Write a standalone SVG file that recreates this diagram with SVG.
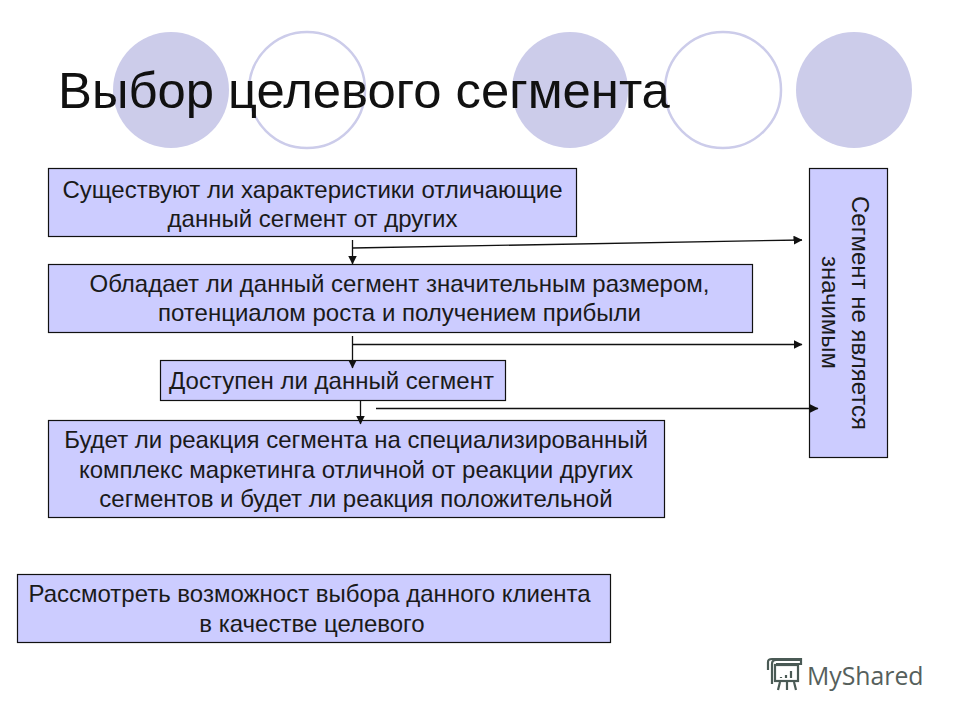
<svg xmlns="http://www.w3.org/2000/svg" width="960" height="720" viewBox="0 0 960 720">
<style>
text{font-family:"Liberation Sans",Arial,sans-serif;fill:#1a1a1a}
.t{font-size:24px;text-anchor:middle}
.b{fill:#ccccff;stroke:#111;stroke-width:1.2}
.c{fill:#ccccea}
.r{fill:#fff;stroke:#ccccea;stroke-width:2.5}
.l{fill:none;stroke:#111;stroke-width:1.3}
.i{fill:none;stroke:#4a5a55;stroke-width:2.200}
</style>
<defs><marker id="a" viewBox="0 0 9 9" refX="8.500" refY="4.500" markerWidth="9" markerHeight="9" markerUnits="userSpaceOnUse" orient="auto"><path d="M0 0L9 4.500L0 9Z" fill="#111"/></marker></defs>
<rect width="960" height="720" fill="#fff"/>
<g id="decor">
<circle class="c" cx="171" cy="90" r="58"/><circle class="r" cx="307" cy="90" r="58"/><circle class="c" cx="570" cy="90" r="58"/><circle class="r" cx="723" cy="90" r="58"/><circle class="c" cx="854" cy="90" r="58"/>
</g>
<text id="title" x="58" y="108" style="font-size:50.800px;fill:#111">Выбор целевого сегмента</text>
<g id="n1"><rect class="b" x="48.500" y="168.500" width="528" height="68"/><text class="t" x="312.500" y="198">Существуют ли характеристики отличающие</text><text class="t" x="312.500" y="227">данный сегмент от других</text></g>
<g id="n2"><rect class="b" x="48.500" y="264.500" width="704" height="68"/><text class="t" x="399.500" y="292">Обладает ли данный сегмент значительным размером,</text><text class="t" x="399.500" y="321">потенциалом роста и получением прибыли</text></g>
<g id="n3"><rect class="b" x="160.500" y="360.500" width="345" height="40"/><text class="t" x="331.500" y="389">Доступен ли данный сегмент</text></g>
<g id="n4"><rect class="b" x="48.500" y="420.500" width="616" height="97"/><text class="t" x="356" y="448">Будет ли реакция сегмента на специализированный</text><text class="t" x="356" y="478">комплекс маркетинга отличной от реакции других</text><text class="t" x="356" y="507">сегментов и будет ли реакция положительной</text></g>
<g id="n5"><rect class="b" x="17.500" y="574.500" width="593" height="68"/><text class="t" x="309.500" y="602">Рассмотреть возможност выбора данного клиента</text><text class="t" x="312" y="632">в качестве целевого</text></g>
<g id="n6"><rect class="b" x="809.500" y="168.500" width="78" height="289"/><text class="t" transform="translate(852 313) rotate(90)">Сегмент не является</text><text class="t" transform="translate(822 312.500) rotate(90)">значимым</text></g>
<g id="connectors">
<path class="l" d="M352.500 240V264" marker-end="url(#a)"/>
<path class="l" d="M352.500 248L802 240" marker-end="url(#a)"/>
<path class="l" d="M352.500 336V368" marker-end="url(#a)"/>
<path class="l" d="M352.500 344.500H802" marker-end="url(#a)"/>
<path class="l" d="M360.500 401V424" marker-end="url(#a)"/>
<path class="l" d="M376 408.500H818" marker-end="url(#a)"/>
</g>
<g id="logo">
<path class="i" d="M772 684V664Q772 660 776 660H800M768 670V662Q768 659 772 659H801V664H776"/>
<rect class="i" x="775" y="665" width="23" height="16"/>
<path class="i" d="M781 677v1M786 675v3M791 671v7M780 682l-2 8M787 682v8M794 682l2 8"/>
<text x="807" y="685" style="font-size:24.800px;font-family:'Open Sans','Noto Sans',sans-serif;fill:#56605c">MyShared</text>
</g>
</svg>
